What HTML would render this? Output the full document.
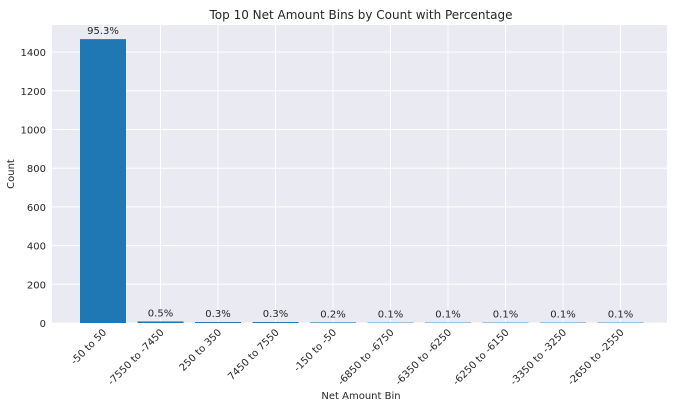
<!DOCTYPE html>
<html><head><meta charset="utf-8"><style>
body{margin:0;background:#fff;font-family:"DejaVu Sans","Liberation Sans",sans-serif;}
svg text{font-family:"DejaVu Sans","Liberation Sans",sans-serif;fill:#262626;}
</style></head><body>
<svg id="chart" width="679" height="407" viewBox="0 0 679 407" xmlns="http://www.w3.org/2000/svg">
<text x="361" y="19" font-size="12" text-anchor="middle">Top 10 Net Amount Bins by Count with Percentage</text>
<rect x="52" y="25" width="615" height="298" fill="#eaeaf2"/>
<g id="grid"></g><g id="bars"></g><g id="labels"></g>
<text x="361" y="399" font-size="10" text-anchor="middle">Net Amount Bin</text>
<text x="14" y="174" font-size="10" text-anchor="middle" transform="rotate(-90 14 174)">Count</text>
</svg>
<script>
const categories=["-50 to 50","-7550 to -7450","250 to 350","7450 to 7550","-150 to -50","-6850 to -6750","-6350 to -6250","-6250 to -6150","-3350 to -3250","-2650 to -2550"];
const counts=[1467,8,5,5,3,2,2,2,2,2];
const pctLabels=["95.3%","0.5%","0.3%","0.3%","0.2%","0.1%","0.1%","0.1%","0.1%","0.1%"];
const yTicks=[0,200,400,600,800,1000,1200,1400];
const NS="http://www.w3.org/2000/svg";
const x0=52,x1=667,yb=323,yt=25,yMax=1540;
const step=57.5,first=103;
function xs(i){return first+i*step;}
function ys(v){return yb-(v/yMax)*(yb-yt);}
function mk(t,a,p){const e=document.createElementNS(NS,t);for(const k in a)e.setAttribute(k,a[k]);p.appendChild(e);return e;}
const g=document.getElementById('grid'),b=document.getElementById('bars'),l=document.getElementById('labels');
yTicks.forEach(v=>{
 const ln=mk('line',{x1:x0,x2:x1,y1:ys(v),y2:ys(v),stroke:'#fff','stroke-width':1},g);
 
 
 const t=mk('text',{x:x0-6,y:ys(v)+4,'font-size':10,'text-anchor':'end'},l);
 
 
 t.textContent=v;
});
categories.forEach((c,i)=>{
 const ln=mk('line',{x1:xs(i),x2:xs(i),y1:yt,y2:yb,stroke:'#fff','stroke-width':1},g);
 
 
 const bw=step*0.8;
 const r=mk('rect',{x:xs(i)-bw/2,y:ys(counts[i]),width:bw,height:yb-ys(counts[i]),fill:'#1f77b4'},b);
 
 
 const p=mk('text',{x:xs(i),y:ys(counts[i])-5,'font-size':10,'text-anchor':'middle'},l);
 
 
 p.textContent=pctLabels[i];
 const tx=xs(i)+4,ty=yb+10;
 const t=mk('text',{x:tx,y:ty,'font-size':10,'text-anchor':'end',transform:`rotate(-45 ${tx} ${ty})`},l);
 
 
 t.textContent=c;
});
</script>
</body></html>
